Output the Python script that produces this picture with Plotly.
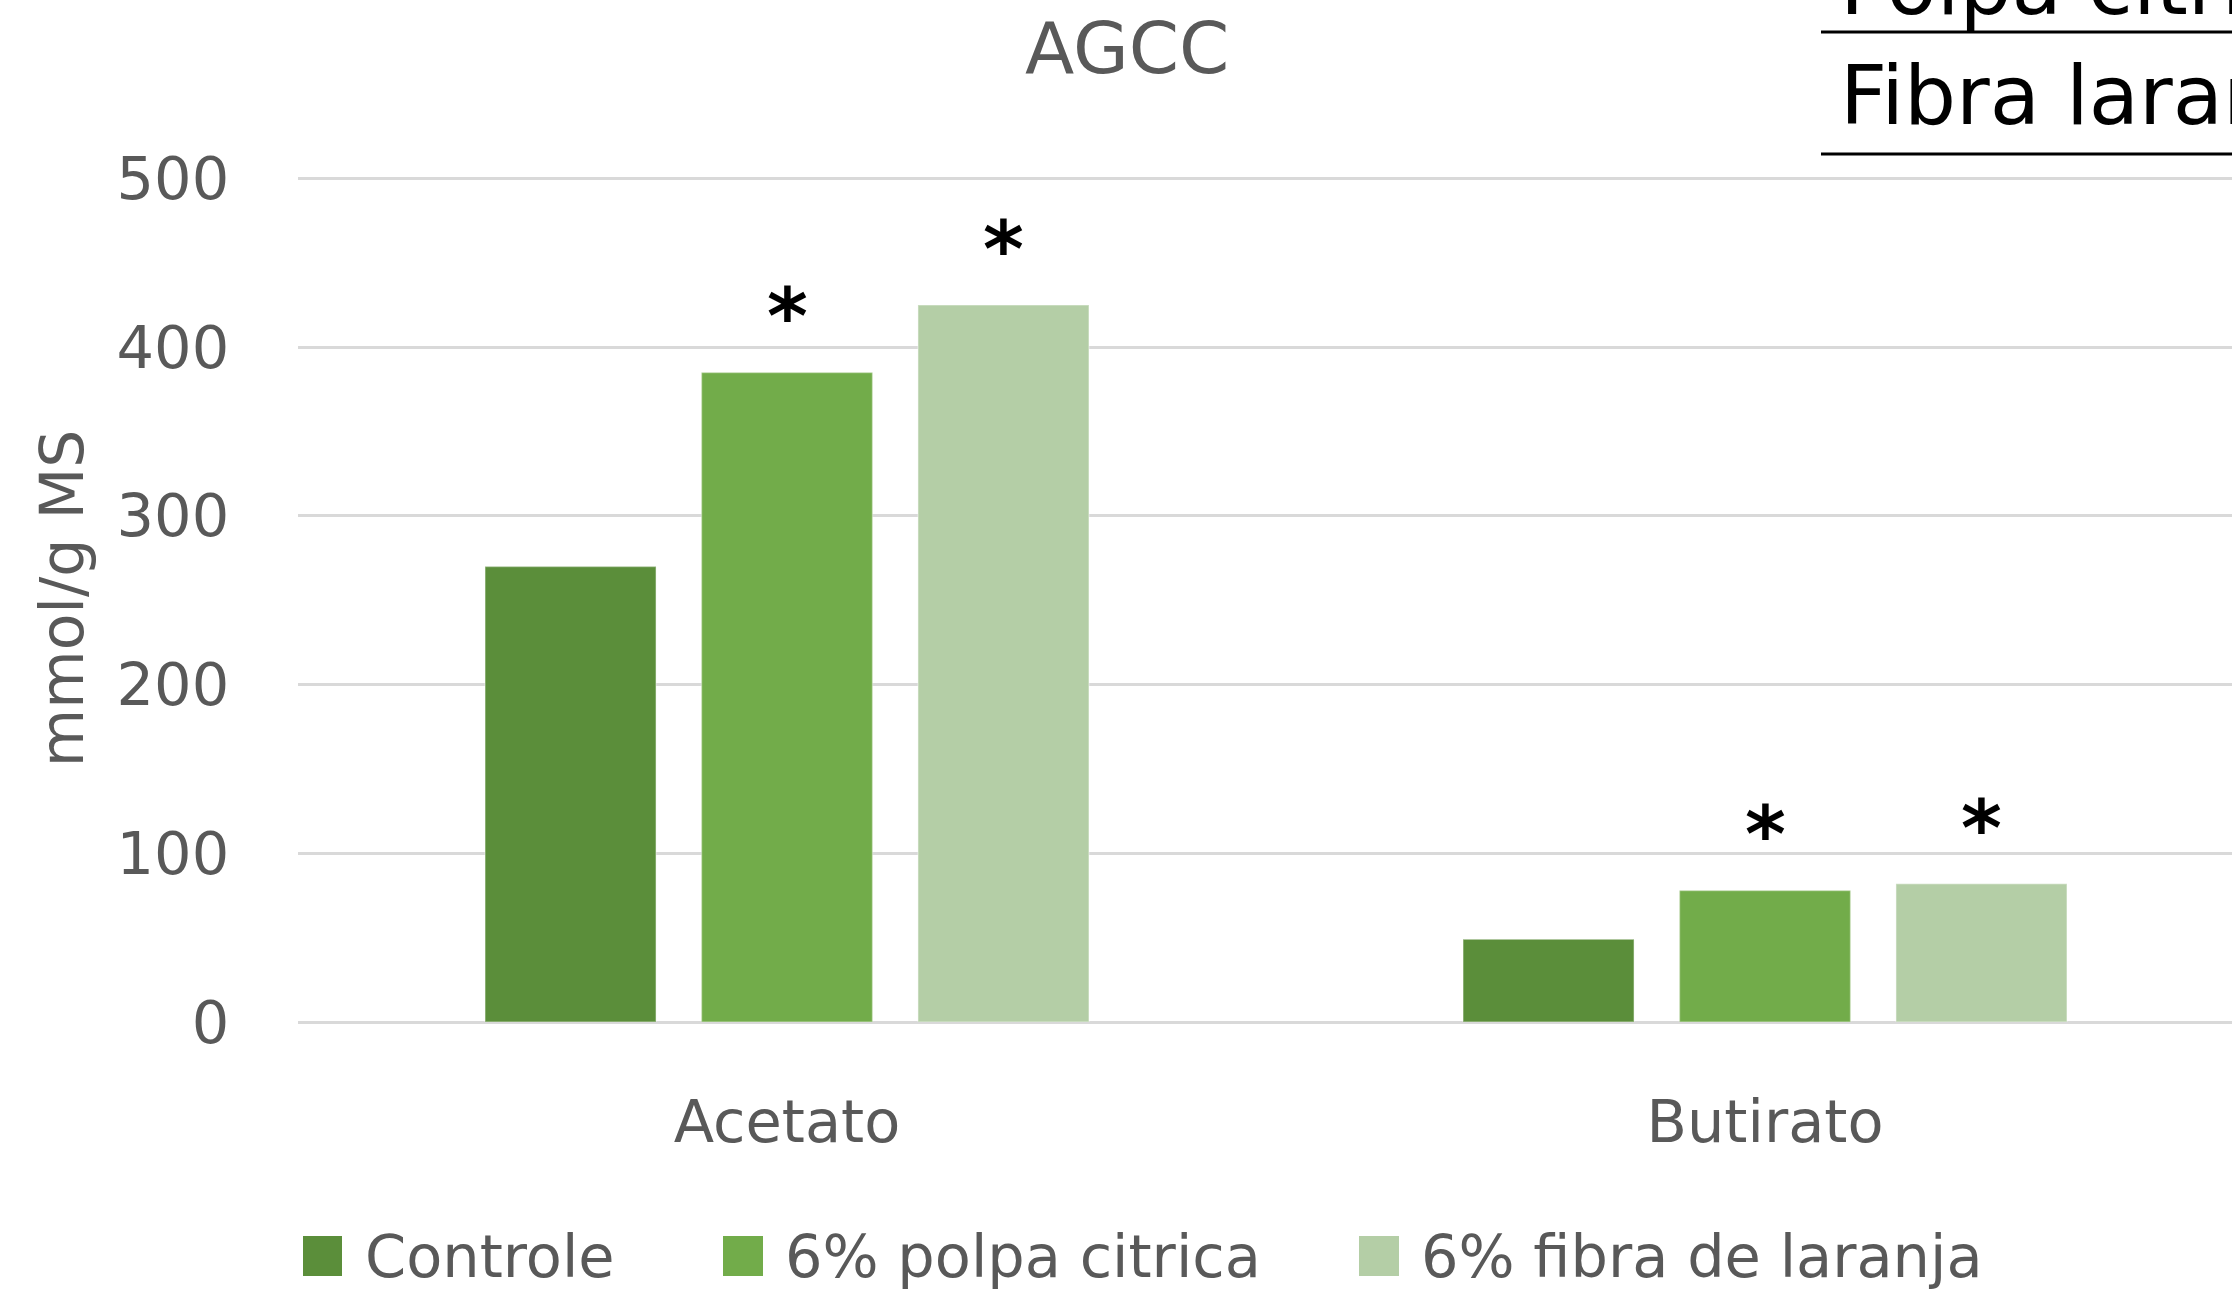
import plotly.graph_objects as go

categories = ["Acetato", "Butirato"]
series_names = ["Controle", "6% polpa citrica", "6% fibra de laranja"]
controle = [270, 49]
polpa = [385, 78]
fibra = [425, 82]
# which bars carry the significance asterisk
signif = [[False, False], [True, True], [True, True]]
colors = ["#5B8E3A", "#72AC4A", "#B4CEA6"]
y_ticks = [0, 100, 200, 300, 400, 500]

W, H = 2232, 1291
L, R, T, B = 298, 0, 175, 269
PW, PH = W - L - R, H - T - B
band = 978.0  # px per category on the original

def px(x):
    return (x - L) / PW

def py(y):
    return 1 - (y - T) / PH

font = "DejaVu Sans, Verdana, sans-serif"
grey = "#595959"
bargap = 0.336
groupgap = 0.21

fig = go.Figure()
for name, vals, col in zip(series_names, [controle, polpa, fibra], colors):
    fig.add_trace(go.Bar(
        x=categories, y=vals, name=name,
        marker=dict(color=col, line=dict(color="rgba(255,255,255,0.35)", width=1.5)),
        showlegend=False, hoverinfo="skip"
    ))

# asterisks
slot = (1 - bargap) / 3
for k, vals in enumerate([controle, polpa, fibra]):
    for i, v in enumerate(vals):
        if signif[k][i]:
            fig.add_annotation(
                x=i + (k - 1) * slot, y=v, xref="x", yref="y",
                text="<b>*</b>", showarrow=False, yanchor="bottom", yshift=8,
                font=dict(family="DejaVu Sans", size=78, color="black")
            )

# legend drawn by hand so the swatches can be as large as the original
leg = [(303, 342, 363), (723, 763, 783), (1359, 1399, 1419)]
for (x0, x1, tx), name, col in zip(leg, series_names, colors):
    fig.add_shape(type="rect", xref="paper", yref="paper",
                  x0=px(x0), x1=px(x1), y0=py(1276), y1=py(1236),
                  fillcolor=col, line=dict(width=0))
    fig.add_annotation(x=px(tx), y=py(1256), xref="paper", yref="paper",
                       text=name, showarrow=False, xanchor="left", yanchor="middle",
                       font=dict(family=font, size=59, color=grey))

# title
fig.add_annotation(x=px(1127), y=py(48), xref="paper", yref="paper",
                   text="AGCC", showarrow=False, xanchor="center", yanchor="middle",
                   font=dict(family=font, size=72, color=grey))

# cut-off table in the top right corner
for yl in (32, 154):
    fig.add_shape(type="line", xref="paper", yref="paper",
                  x0=px(1821), x1=px(W + 10), y0=py(yl), y1=py(yl),
                  line=dict(color="black", width=3))
fig.add_annotation(x=px(1838), y=py(95), xref="paper", yref="paper",
                   text="Fibra laranja", showarrow=False, xanchor="left", yanchor="middle",
                   font=dict(family=font, size=82, color="black"))
fig.add_annotation(x=px(1838), y=py(-15), xref="paper", yref="paper",
                   text="Polpa cítrica", showarrow=False, xanchor="left", yanchor="middle",
                   font=dict(family=font, size=82, color="black"))

fig.update_layout(
    width=W, height=H,
    margin=dict(l=L, r=R, t=T, b=B, autoexpand=False),
    paper_bgcolor="white", plot_bgcolor="white",
    barmode="group", bargap=bargap, bargroupgap=groupgap,
    font=dict(family=font, color=grey, size=59),
    xaxis=dict(
        type="category", range=[-0.5, -0.5 + PW / band],
        showgrid=False, showline=False, zeroline=False,
        ticks="outside", ticklen=48, tickcolor="rgba(0,0,0,0)",
        tickfont=dict(size=59, color=grey)
    ),
    yaxis=dict(
        range=[0, 502], tickvals=y_ticks,
        showgrid=True, gridcolor="#D9D9D9", gridwidth=3,
        zeroline=True, zerolinecolor="#D9D9D9", zerolinewidth=3,
        showline=False,
        ticks="outside", ticklen=56, tickcolor="rgba(0,0,0,0)",
        tickfont=dict(size=59, color=grey),
        title=dict(text="mmol/g MS", standoff=13, font=dict(size=60, color=grey)),
        automargin=False
    ),
)

fig.write_html("out.html", config={"displayModeBar": False},
               post_script="document.body.style.margin='0';document.body.style.overflow='hidden';")
